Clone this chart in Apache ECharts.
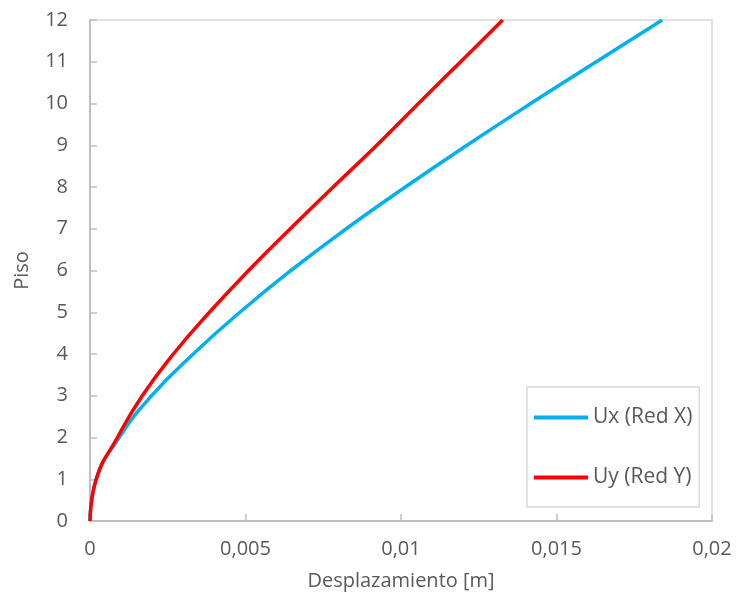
<!DOCTYPE html>
<html>
<head>
<meta charset="utf-8">
<script src="https://cdn.jsdelivr.net/npm/echarts@6/dist/echarts.min.js"></script>
<style>
html,body{margin:0;padding:0;background:#fff;}
#chart{width:739px;height:605px;}
</style>
</head>
<body>
<div id="chart"></div>
<script>
const floors = [0,1,2,3,4,5,6,7,8,9,10,11,12];
const ux = [0, 0.0002, 0.00094, 0.00198, 0.00332, 0.00482, 0.00646, 0.00824, 0.01014, 0.01212, 0.01417, 0.01628, 0.0184];
const uy = [0, 0.0002, 0.00088, 0.00168, 0.00268, 0.00384, 0.0051, 0.00644, 0.00782, 0.00922, 0.01056, 0.01192, 0.01327];
const seriesNames = ['Ux (Red X)', 'Uy (Red Y)'];
const xTitle = 'Desplazamiento [m]';
const yTitle = 'Piso';

const FONT = '"Open Sans", sans-serif';
const TXT = '#595959';
const chart = echarts.init(document.getElementById('chart'), null, {renderer:'canvas'});
const fmt = v => String(+(+v).toFixed(4)).replace('.', ',');

chart.setOption({
  animation: false,
  backgroundColor: '#fff',
  textStyle: {fontFamily: FONT},
  grid: {left: 90, right: 27, top: 20, bottom: 84, show: true, borderColor: '#d9d9d9', borderWidth: 1.5, containLabel: false},
  legend: {
    orient: 'vertical', left: 527, top: 387,
    data: seriesNames,
    icon: 'rect', itemWidth: 54, itemHeight: 4, itemGap: 39,
    padding: [20, 7, 19, 7],
    borderColor: '#d9d9d9', borderWidth: 1.5, backgroundColor: '#fff',
    textStyle: {color: TXT, fontSize: 21, fontFamily: FONT}
  },
  xAxis: {
    type: 'value', min: 0, max: 0.02, interval: 0.005,
    name: xTitle, nameLocation: 'middle', nameGap: 50,
    nameTextStyle: {color: TXT, fontSize: 20, fontFamily: FONT},
    axisLine: {show: true, lineStyle: {color: '#bfbfbf', width: 2}},
    axisTick: {show: true, inside: true, length: 7, lineStyle: {color: '#bfbfbf', width: 1.5}},
    axisLabel: {color: TXT, fontSize: 20, margin: 18, formatter: fmt, fontFamily: FONT},
    splitLine: {show: false}
  },
  yAxis: {
    type: 'value', min: 0, max: 12, interval: 1,
    name: yTitle, nameLocation: 'middle', nameGap: 58,
    nameTextStyle: {color: TXT, fontSize: 20, fontFamily: FONT},
    axisLine: {show: true, lineStyle: {color: '#bfbfbf', width: 2}},
    axisTick: {show: true, inside: true, length: 7, lineStyle: {color: '#bfbfbf', width: 1.5}},
    axisLabel: {color: TXT, fontSize: 20, margin: 22, fontFamily: FONT},
    splitLine: {show: false}
  },
  series: [
    {name: seriesNames[0], type: 'line', data: floors.map((f,i)=>[ux[i], f]), smooth: 0.5, showSymbol: false, symbol: 'none',
     lineStyle: {color: '#00b0f0', width: 3.5}, itemStyle: {color: '#00b0f0'}},
    {name: seriesNames[1], type: 'line', data: floors.map((f,i)=>[uy[i], f]), smooth: 0.5, showSymbol: false, symbol: 'none',
     lineStyle: {color: '#ff0000', width: 3.5}, itemStyle: {color: '#ff0000'}}
  ]
});
</script>
</body>
</html>
